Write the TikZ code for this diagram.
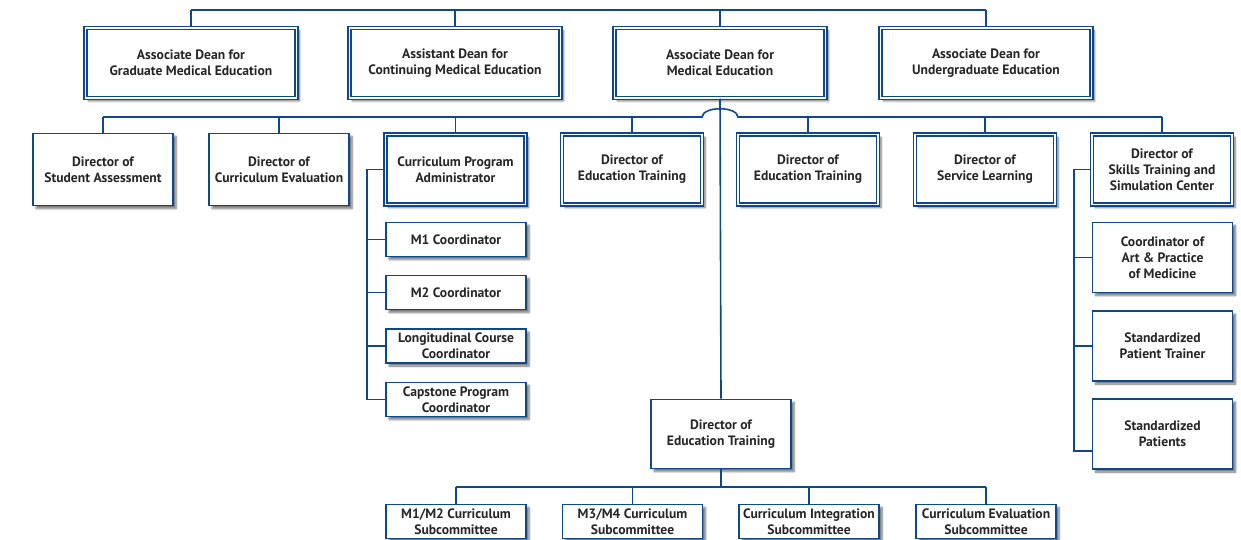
\documentclass[tikz,border=0pt]{standalone}
\usepackage{fontspec}
\setmainfont{PT Sans}
\usepackage{tikz}
\usetikzlibrary{
  positioning, % for relative node positioning
  calc, % for position calculations
  shadows.blur, % for soft box shadows
}
\definecolor{org-blue}{RGB}{14, 72, 140}

\begin{document}
\begin{tikzpicture}[x=1pt, y=-1pt,
    font=\fontsize{13.6}{16}\selectfont\bfseries,
    box/.style={fill=white, align=center, inner sep=1pt, text=black!85,
      blur shadow={shadow xshift=3pt, shadow yshift=-3pt, shadow blur steps=6, shadow opacity=55}},
    unit box/.style={box, draw=org-blue, line width=1.7pt},
    head box/.style={box, draw=org-blue, line width=1.5pt, double=white, double distance=1.6pt},
    link/.style={draw=org-blue, line width=1.6pt},
  ]
  \useasboundingbox (0,0) rectangle (1241,540);

  % deans
  \node[head box, minimum width=211pt, minimum height=70pt] (gme) at (191,63) {Associate Dean for\\ Graduate Medical Education};
  \node[head box, minimum width=211pt, minimum height=70pt] (cme) at (455,63) {Assistant Dean for\\ Continuing Medical Education};
  \node[head box, minimum width=211pt, minimum height=70pt] (mde) at (720,63) {Associate Dean for\\ Medical Education};
  \node[head box, minimum width=211pt, minimum height=70pt] (ugr) at (986,63) {Associate Dean for\\ Undergraduate Education};

  % directors
  \node[unit box, minimum width=140pt, minimum height=72pt] (stass) at (103,169.5) {Director of\\ Student Assessment};
  \node[unit box, minimum width=140pt, minimum height=72pt] (cueval) at (279,169.5) {Director of\\ Curriculum Evaluation};
  \node[head box, minimum width=140pt, minimum height=70pt] (cpa) at (455.5,169.5) {Curriculum Program\\ Administrator};
  \node[head box, minimum width=140pt, minimum height=70pt] (edtra) at (632,169.5) {Director of\\ Education Training};
  \node[head box, minimum width=140pt, minimum height=70pt] (edtrb) at (808,169.5) {Director of\\ Education Training};
  \node[head box, minimum width=140pt, minimum height=70pt] (svl) at (985,169.5) {Director of\\ Service Learning};
  \node[head box, minimum width=140pt, minimum height=70pt] (skl) at (1162,169.5) {Director of\\ Skills Training and\\ Simulation Center};

  % coordinators
  \node[unit box, minimum width=140pt, minimum height=34pt] (mone) at (456,239.5) {M1 Coordinator};
  \node[unit box, minimum width=140pt, minimum height=34pt] (mtwo) at (456,292.5) {M2 Coordinator};
  \node[unit box, minimum width=140pt, minimum height=34pt] (lcc) at (456,346) {Longitudinal Course\\ Coordinator};
  \node[unit box, minimum width=140pt, minimum height=34pt] (cpc) at (456,399.5) {Capstone Program\\ Coordinator};

  \node[unit box, minimum width=140pt, minimum height=70pt] (apm) at (1162.5,257.5) {Coordinator of\\ Art \& Practice\\ of Medicine};
  \node[unit box, minimum width=140pt, minimum height=70pt] (spt) at (1162.5,346) {Standardized\\ Patient Trainer};
  \node[unit box, minimum width=140pt, minimum height=70pt] (stp) at (1162.5,434) {Standardized\\ Patients};

  % subcommittees
  \node[unit box, minimum width=140pt, minimum height=69pt] (edtrc) at (721,434) {Director of\\ Education Training};
  \node[unit box, minimum width=140pt, minimum height=34pt] (msub) at (456,521.5) {M1/M2 Curriculum\\ Subcommittee};
  \node[unit box, minimum width=140pt, minimum height=34pt] (mssub) at (632.5,521.5) {M3/M4 Curriculum\\ Subcommittee};
  \node[unit box, minimum width=140pt, minimum height=34pt] (cisub) at (809,521.5) {Curriculum Integration\\ Subcommittee};
  \node[unit box, minimum width=140pt, minimum height=34pt] (cesub) at (986,521.5) {Curriculum Evaluation\\ Subcommittee};

  % buses
  \coordinate (topbus) at (0,10);
  \coordinate (midbus) at (0,117);
  \coordinate (lowbus) at (0,487);
  \coordinate (cpaspine) at (367,0);
  \coordinate (sklspine) at (1074,0);
  \coordinate (stpjoin) at ($(stp.west)+(0,17)$);

  \draw[link] (gme.north |- topbus) -- (ugr.north |- topbus);
  \foreach \n in {gme,cme,mde,ugr}
    \draw[link] (\n.north) -- (\n.north |- topbus);

  \draw[link] (stass.north |- midbus) -- ($(mde.south |- midbus)+(-18,0)$)
    .. controls +(1,-11) and +(-1,-11) .. ($(mde.south |- midbus)+(18,0)$)
    -- (skl.north |- midbus);
  \foreach \n in {stass,cueval,cpa,edtra,edtrb,svl,skl}
    \draw[link] (\n.north) -- (\n.north |- midbus);
  \draw[link] (mde.south) -- (edtrc.north);

  \draw[link] (cpa.west) -| (cpaspine |- cpc.west) -- (cpc.west);
  \foreach \n in {mone,mtwo,lcc}
    \draw[link] (\n.west) -- (\n.west -| cpaspine);

  \draw[link] (skl.west) -| (sklspine |- stpjoin) -- (stpjoin);
  \foreach \n in {apm,spt}
    \draw[link] (\n.west) -- (\n.west -| sklspine);

  \draw[link] (edtrc.south) -- (edtrc.south |- lowbus);
  \draw[link] (msub.north |- lowbus) -- (cesub.north |- lowbus);
  \foreach \n in {msub,mssub,cisub,cesub}
    \draw[link] (\n.north) -- (\n.north |- lowbus);
\end{tikzpicture}
\end{document}
